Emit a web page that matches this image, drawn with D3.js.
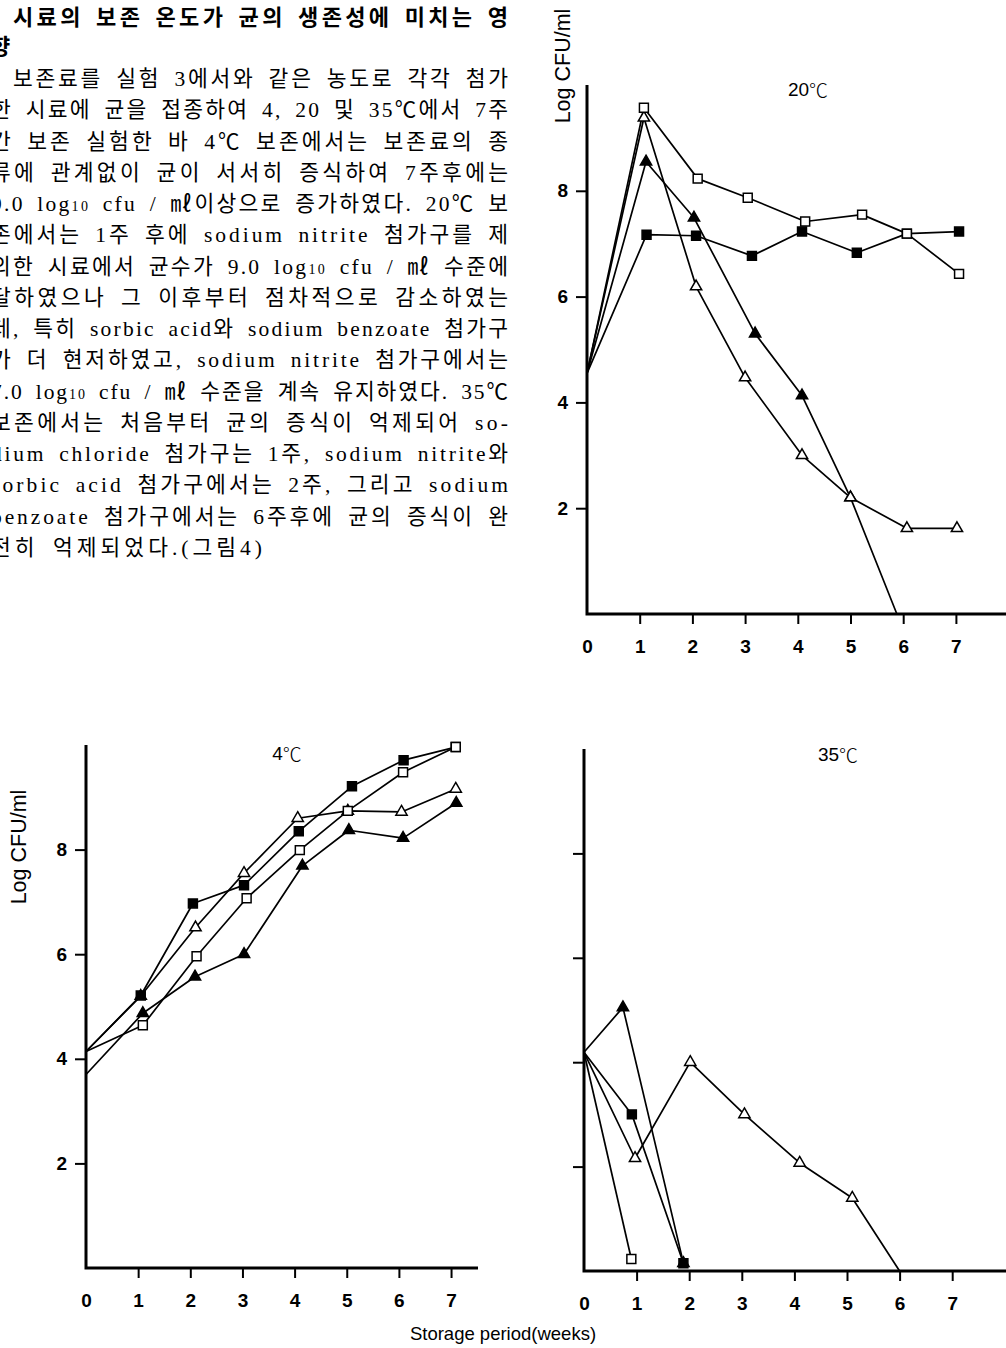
<!DOCTYPE html>
<html><head><meta charset="utf-8">
<script src="https://cdn.jsdelivr.net/npm/d3@7"></script>
<style>
html,body{margin:0;padding:0;background:#fff;}
svg{display:block;}
</style></head><body>
<svg id="fig" width="1006" height="1348"></svg>
<script>
// ---------------- data ----------------
const weekTicks = [0, 1, 2, 3, 4, 5, 6, 7];
const logTicks = [2, 4, 6, 8];

// 20 ℃  : [storage week, log CFU/ml]
const t20Chloride = [[0,4.55],[1.08,9.57],[2.1,8.23],[3.05,7.87],[4.14,7.42],[5.22,7.55],[6.07,7.19],[7.06,6.43]];
const t20Nitrite  = [[0,4.55],[1.13,7.17],[2.07,7.15],[3.13,6.77],[4.08,7.23],[5.12,6.83],[6.07,7.19],[7.06,7.23]];
const t20Benzoate = [[0,4.55],[1.08,9.38],[2.07,6.19],[3.0,4.47],[4.08,3.0],[5.0,2.2],[6.07,1.62],[7.02,1.62]];
const t20Sorbic   = [[0,4.55],[1.12,8.55],[2.03,7.49],[3.19,5.3],[4.08,4.13],[5.0,2.2],[5.88,0]];

// 4 ℃
const t4Chloride = [[0,4.14],[1.09,4.64],[2.12,5.96],[3.08,7.07],[4.1,7.99],[5.02,8.74],[6.08,9.48],[7.09,9.96]];
const t4Nitrite  = [[0,4.14],[1.05,5.21],[2.05,6.97],[3.03,7.32],[4.08,8.35],[5.1,9.21],[6.09,9.71],[7.09,9.96]];
const t4Benzoate = [[0,4.14],[1.05,5.2],[2.1,6.51],[3.03,7.55],[4.06,8.6],[5.02,8.74],[6.05,8.72],[7.09,9.16]];
const t4Sorbic   = [[0,3.7],[1.09,4.87],[2.09,5.57],[3.03,6.0],[4.15,7.69],[5.04,8.37],[6.08,8.22],[7.1,8.89]];

// 35 ℃
const t35Chloride = [[0,4.19],[0.9,0.23]];
const t35Nitrite  = [[0,4.19],[0.91,3.0],[1.89,0.15]];
const t35Benzoate = [[0,4.19],[0.97,2.16],[2.02,4.0],[3.05,3.0],[4.1,2.07],[5.1,1.4],[6.0,0]];
const t35Sorbic   = [[0,4.19],[0.74,5.05],[1.89,0.15]];

// text
const yAxisTitle = "Log CFU/ml";
const xAxisTitle = "Storage period(weeks)";
const panelTitles = ["20", "4", "35"];
const degreeSign = "℃";
const headingLines = ["시료의 보존 온도가 균의 생존성에 미치는 영", "향"];
const bodyLines = [
  "보존료를 실험 3에서와 같은 농도로 각각 첨가",
  "한 시료에 균을 접종하여 4, 20 및 35℃에서 7주",
  "간 보존 실험한 바 4℃ 보존에서는 보존료의 종",
  "류에 관계없이 균이 서서히 증식하여 7주후에는",
  "9.0 log{10} cfu / ㎖이상으로 증가하였다. 20℃ 보",
  "존에서는 1주 후에 sodium nitrite 첨가구를 제",
  "외한 시료에서 균수가 9.0 log{10} cfu / ㎖ 수준에",
  "달하였으나 그 이후부터 점차적으로 감소하였는",
  "데, 특히 sorbic acid와 sodium benzoate 첨가구",
  "가 더 현저하였고, sodium nitrite 첨가구에서는",
  "7.0 log{10} cfu / ㎖ 수준을 계속 유지하였다. 35℃",
  "보존에서는 처음부터 균의 증식이 억제되어 so-",
  "dium chloride 첨가구는 1주, sodium nitrite와",
  "sorbic acid 첨가구에서는 2주, 그리고 sodium",
  "benzoate 첨가구에서는 6주후에 균의 증식이 완",
  "전히 억제되었다.(그림4)"
];

// ---------------- drawing ----------------
const svg = d3.select("#fig");
svg.append("rect").attr("width", 1006).attr("height", 1348).attr("fill", "#fff");

const SANS = "'Liberation Sans', Arial, Helvetica, sans-serif";
const BODY = "'Liberation Serif', 'Noto Sans CJK KR', serif";

// ---- text block ----
function addLine(str, x, yc, opts) {
  const t = svg.append("text")
    .attr("x", x).attr("y", yc + 8)
    .attr("font-family", opts.family)
    .attr("font-size", opts.size)
    .attr("font-weight", opts.weight || 400)
    .attr("word-spacing", opts.ws || 0)
    .attr("fill", "#000");
  const parts = str.split(/(\{10\})/);
  parts.forEach(p => {
    if (p === "{10}") t.append("tspan").attr("font-size", 14).text("10");
    else if (p.length) t.append("tspan").text(p);
  });
  if (opts.right) {
    t.attr("textLength", opts.right - x).attr("lengthAdjust", "spacing");
  }
}
addLine(headingLines[0], 13, 17, {family: "'Noto Sans CJK KR', sans-serif", size: 22, weight: 700, right: 508, ws: 4});
addLine(headingLines[1], -10, 46, {family: "'Noto Sans CJK KR', sans-serif", size: 22, weight: 700});
const step = (547 - 78) / 15;
bodyLines.forEach((s, i) => {
  const x = i === 0 ? 13 : -9;
  const last = i === bodyLines.length - 1;
  addLine(s, x, 78 + i * step, {family: BODY, size: 21.5, ws: 5, right: last ? 262 : 508});
});

// ---- panels ----
const markerType = {
  chloride: {sym: d3.symbolSquare, size: 80, fill: "#fff"},
  nitrite:  {sym: d3.symbolSquare, size: 80, fill: "#000"},
  benzoate: {sym: d3.symbolTriangle, size: 55, fill: "#fff"},
  sorbic:   {sym: d3.symbolTriangle, size: 55, fill: "#000"}
};

function panel(cfg) {
  const x = d3.scaleLinear().domain([0, cfg.xMax]).range([cfg.x0, cfg.x1]);
  const y = d3.scaleLinear().domain([0, 10]).range([cfg.y0, cfg.y1]);
  const g = svg.append("g");

  // y ticks
  const yg = g.append("g").attr("transform", `translate(${cfg.x0},0)`)
    .call(d3.axisLeft(y).tickValues(logTicks).tickSize(11).tickPadding(8)
      .tickFormat(cfg.yLabels ? d3.format("d") : () => ""));
  yg.select(".domain").remove();
  // x ticks
  const xg = g.append("g").attr("transform", `translate(0,${cfg.y0})`)
    .call(d3.axisBottom(x).tickValues(weekTicks).tickSize(10).tickPadding(16).tickFormat(d3.format("d")));
  xg.select(".domain").remove();
  xg.selectAll(".tick").filter(d => d === 0).select("line").remove();
  [yg, xg].forEach(a => {
    a.selectAll(".tick line").attr("stroke", "#000").attr("stroke-width", 2);
    a.selectAll(".tick text").attr("fill", "#000")
      .attr("font-family", SANS).attr("font-size", 19).attr("font-weight", "bold");
  });
  // axis lines
  g.append("path")
    .attr("d", d3.line()([[x(0), y(10)], [x(0), y(0)], [x(cfg.xMax), y(0)]]))
    .attr("fill", "none").attr("stroke", "#000").attr("stroke-width", 3)
    .attr("stroke-linejoin", "miter");

  // series lines
  const line = d3.line().x(d => x(d[0])).y(d => y(d[1]));
  cfg.order.forEach(key => {
    g.append("path").datum(cfg.series[key]).attr("d", line)
      .attr("fill", "none").attr("stroke", "#000").attr("stroke-width", 1.7)
      .attr("stroke-linejoin", "round");
  });
  // markers
  cfg.order.forEach(key => {
    const m = markerType[key];
    g.selectAll(null).data(cfg.series[key].filter(d => d[0] > 0 && d[1] > 0)).join("path")
      .attr("transform", d => `translate(${x(d[0])},${y(d[1])})`)
      .attr("d", d3.symbol().type(m.sym).size(m.size))
      .attr("fill", m.fill).attr("stroke", "#000").attr("stroke-width", 1.5);
  });

  // title: number + degree sign
  const tt = g.append("text").attr("x", cfg.titleX).attr("y", cfg.titleY)
    .attr("text-anchor", "middle").attr("dominant-baseline", "central")
    .attr("font-size", 19).attr("fill", "#000");
  tt.append("tspan").attr("font-family", SANS).text(cfg.title);
  tt.append("tspan").attr("font-family", "'Noto Sans CJK KR', sans-serif").attr("font-weight", 300).text(degreeSign);
  if (cfg.yTitle) {
    g.append("text")
      .attr("transform", `translate(${cfg.yTitle[0]},${cfg.yTitle[1]}) rotate(-90)`)
      .attr("text-anchor", "middle").attr("dominant-baseline", "central")
      .attr("font-family", SANS).attr("font-size", 21.5).attr("fill", "#000")
      .text(yAxisTitle);
  }
}

panel({
  x0: 587, x1: 1006, xMax: (1006 - 587) / 52.7, y0: 614, y1: 85, yLabels: true,
  series: {chloride: t20Chloride, nitrite: t20Nitrite, benzoate: t20Benzoate, sorbic: t20Sorbic},
  order: ["sorbic", "nitrite", "benzoate", "chloride"],
  title: panelTitles[0], titleX: 808, titleY: 89, yTitle: [563, 66]
});
panel({
  x0: 86, x1: 478, xMax: (478 - 86) / 52.15, y0: 1268, y1: 745, yLabels: true,
  series: {chloride: t4Chloride, nitrite: t4Nitrite, benzoate: t4Benzoate, sorbic: t4Sorbic},
  order: ["benzoate", "nitrite", "chloride", "sorbic"],
  title: panelTitles[1], titleX: 287, titleY: 753, yTitle: [19, 847]
});
panel({
  x0: 584, x1: 1006, xMax: (1006 - 584) / 52.6, y0: 1271, y1: 749, yLabels: false,
  series: {chloride: t35Chloride, nitrite: t35Nitrite, benzoate: t35Benzoate, sorbic: t35Sorbic},
  order: ["sorbic", "nitrite", "benzoate", "chloride"],
  title: panelTitles[2], titleX: 838, titleY: 754
});

svg.append("text").attr("x", 503).attr("y", 1333)
  .attr("text-anchor", "middle").attr("dominant-baseline", "central")
  .attr("font-family", SANS).attr("font-size", 18.5).attr("fill", "#000")
  .text(xAxisTitle);
</script>
</body></html>
